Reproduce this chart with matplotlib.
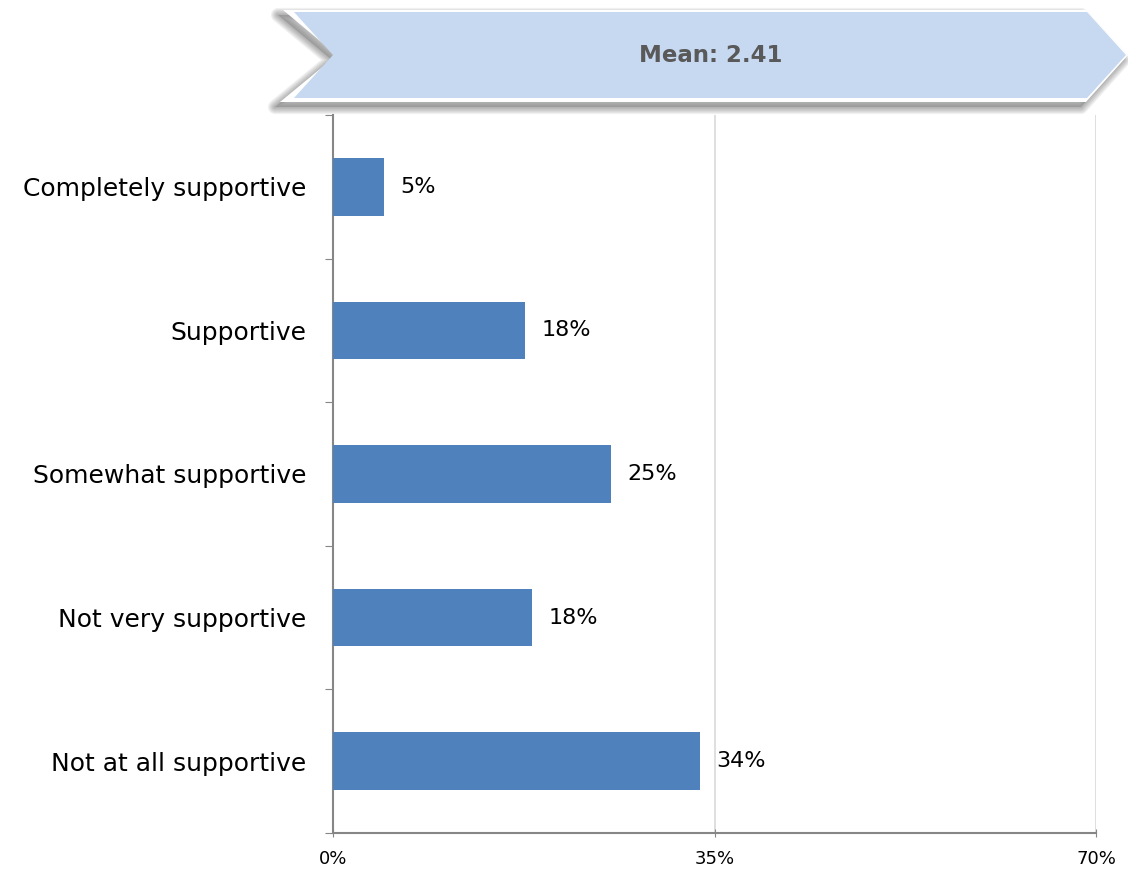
import numpy as np
import matplotlib.pyplot as plt
from matplotlib.patches import Polygon

categories = ['Completely supportive', 'Supportive', 'Somewhat supportive',
              'Not very supportive', 'Not at all supportive']
values = [4.7, 17.6, 25.5, 18.3, 33.7]
value_labels = ['5%', '18%', '25%', '18%', '34%']
x_ticks = [0, 35, 70]
x_tick_labels = ['0%', '35%', '70%']
mean_text = 'Mean: 2.41'

plt.rcParams['font.family'] = ['DejaVu Sans']

W, H = 1128, 872
fig = plt.figure(figsize=(W / 100, H / 100), dpi=100)

# main bar axes, placed in pixels
left, right, top, bottom = 333, 1096, 115, 833
ax = fig.add_axes([left / W, 1 - bottom / H, (right - left) / W, (bottom - top) / H])

y = np.arange(len(categories))
ax.barh(y, values, height=0.4, color='#4F81BD', zorder=3)
ax.set_ylim(len(categories) - 0.5, -0.5)
ax.set_xlim(0, 70)

for yi, v, lab in zip(y, values, value_labels):
    ax.text(v + 1.5, yi, lab, va='center', ha='left', fontsize=16, color='#000000')

ax.set_xticks(x_ticks)
ax.set_xticklabels(x_tick_labels, fontsize=13)
ax.set_yticks(np.arange(len(categories) + 1) - 0.5, minor=False)
ax.set_yticklabels([])
ax.set_yticks(y, minor=True)
ax.set_yticklabels(categories, minor=True, fontsize=18)
ax.tick_params(axis='y', which='minor', length=0, pad=19)
ax.tick_params(axis='y', which='major', length=6, color='#868686', direction='out')
ax.tick_params(axis='x', length=6, color='#868686', direction='inout', pad=9)

ax.grid(axis='x', color='#D9D9D9', linewidth=1.2, zorder=0)
for s in ['top', 'right']:
    ax.spines[s].set_visible(False)
for s in ['left', 'bottom']:
    ax.spines[s].set_color('#868686')
    ax.spines[s].set_linewidth(1.5)

# banner overlay in pixel coords
ov = fig.add_axes([0, 0, 1, 1], zorder=5)
ov.set_xlim(0, W)
ov.set_ylim(H, 0)
ov.axis('off')
ov.patch.set_alpha(0)

outer = [(283, 10), (1086, 10), (1128, 55), (1086, 102), (280, 102), (337, 55)]
inner = [(294, 12), (1087, 12), (1126, 55), (1087, 98), (294, 98), (333, 55)]

# soft drop shadow, offset down-left
shadow = [(px - 5, py + 5) for px, py in outer]
for i in range(6, 0, -1):
    ov.add_patch(Polygon(shadow, closed=True, facecolor='none', edgecolor='#404040',
                         linewidth=i * 1.7, alpha=0.08, joinstyle='round'))
ov.add_patch(Polygon(shadow, closed=True, facecolor='#808080', edgecolor='none', alpha=0.45))
ov.add_patch(Polygon(outer, closed=True, facecolor='white', edgecolor='none'))
ov.add_patch(Polygon(inner, closed=True, facecolor='#C6D9F0', edgecolor='none'))
ov.text(711, 55, mean_text, ha='center', va='center', fontsize=16.5,
        fontweight='bold', color='#595959')

fig.savefig('out.png', dpi=100)
